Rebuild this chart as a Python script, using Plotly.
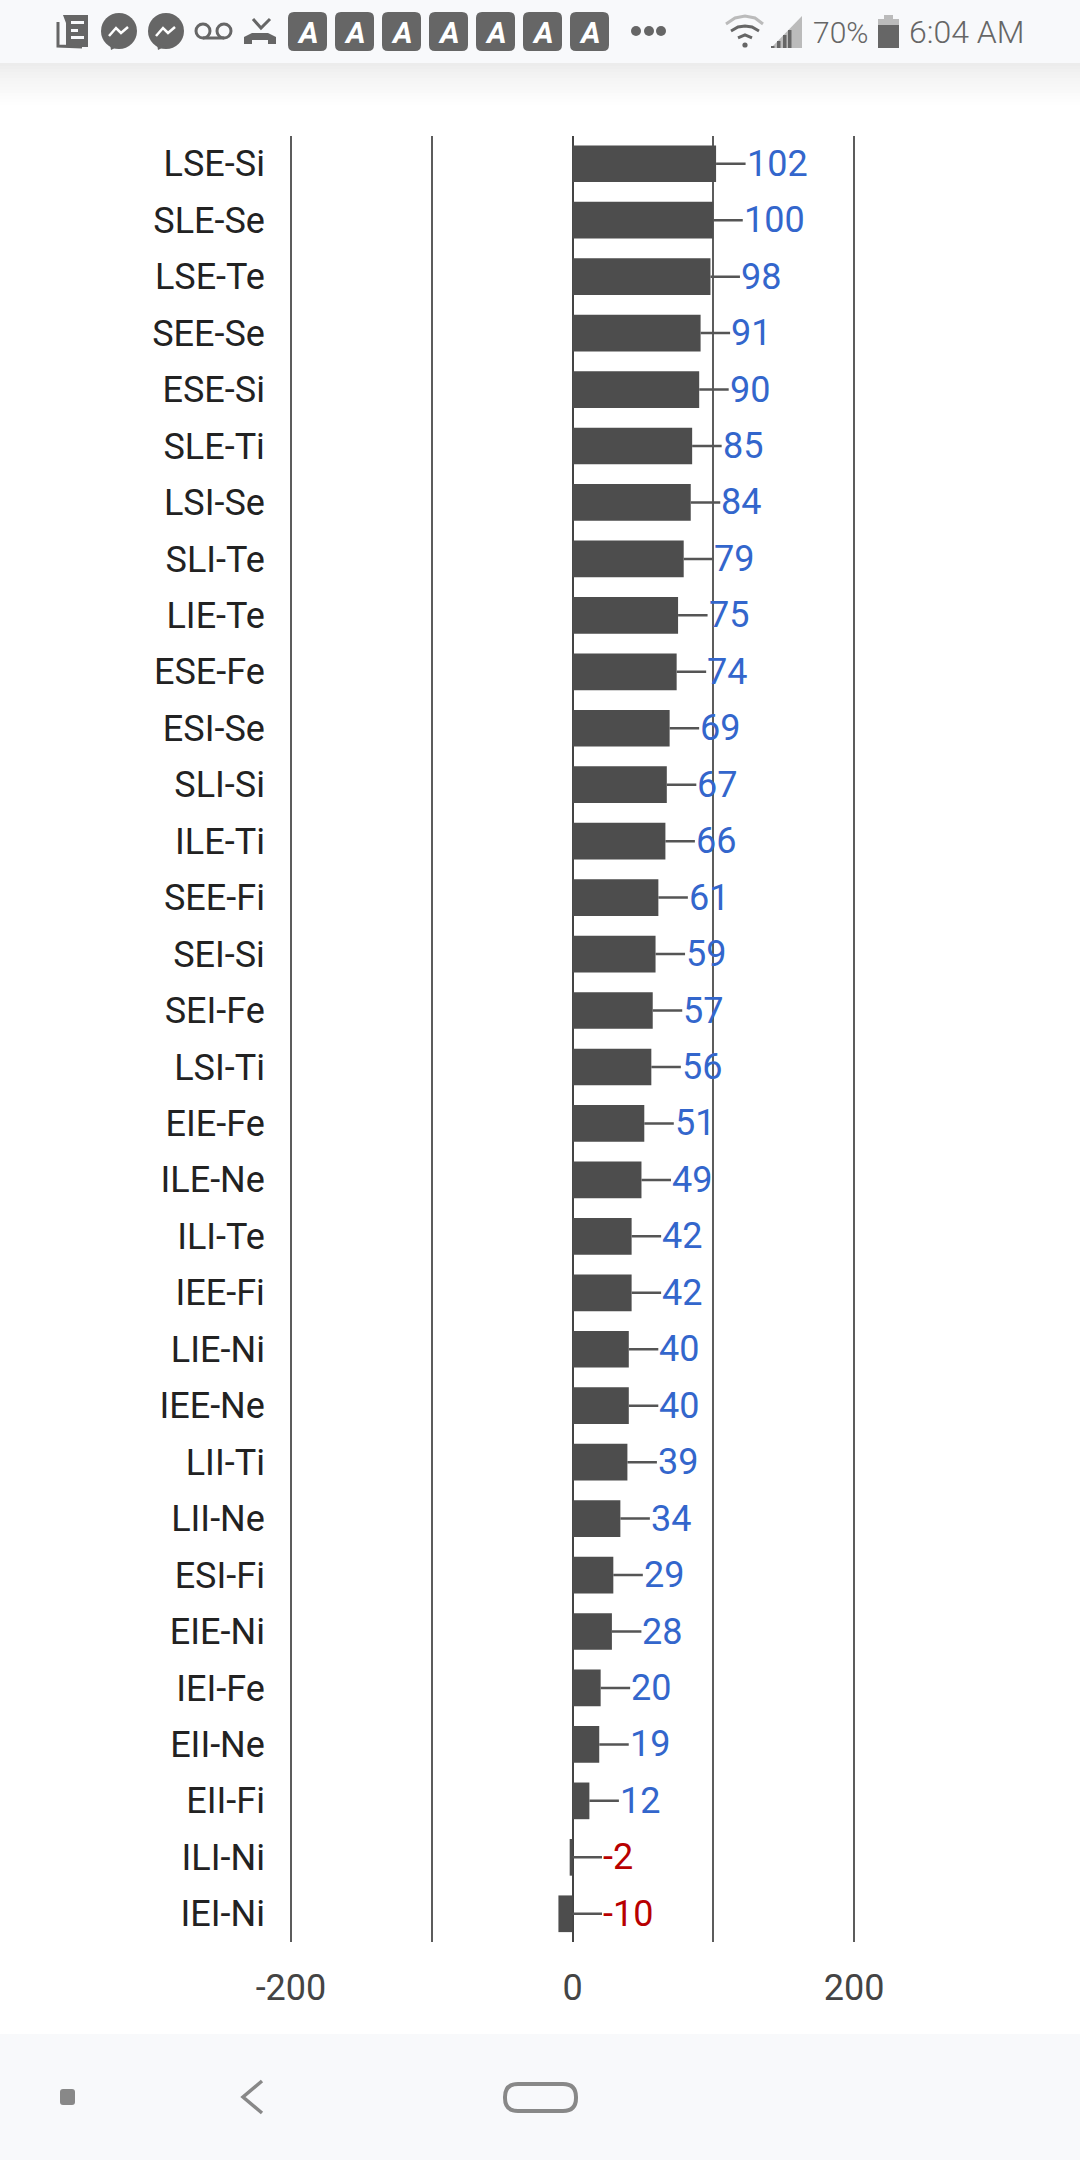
import plotly.graph_objects as go

categories = ["LSE-Si","SLE-Se","LSE-Te","SEE-Se","ESE-Si","SLE-Ti","LSI-Se","SLI-Te","LIE-Te","ESE-Fe",
              "ESI-Se","SLI-Si","ILE-Ti","SEE-Fi","SEI-Si","SEI-Fe","LSI-Ti","EIE-Fe","ILE-Ne","ILI-Te",
              "IEE-Fi","LIE-Ni","IEE-Ne","LII-Ti","LII-Ne","ESI-Fi","EIE-Ni","IEI-Fe","EII-Ne","EII-Fi",
              "ILI-Ni","IEI-Ni"]
values = [102,100,98,91,90,85,84,79,75,74,69,67,66,61,59,57,56,51,49,42,42,40,40,39,34,29,28,20,19,12,-2,-10]
grid_ticks = [-200,-100,0,100,200]
grid_labels = ["-200","","0","","200"]

W, H = 1080, 2160
def px(x): return x / W
def py(y): return 1 - y / H

shapes, annos = [], []
def rect(x0, y0, x1, y1, color, layer="below"):
    shapes.append(dict(type="rect", xref="paper", yref="paper", x0=px(x0), x1=px(x1), y0=py(y0), y1=py(y1),
                       fillcolor=color, line=dict(width=0), layer=layer))
def rrect(x0, y0, x1, y1, r, fill, line=None, lw=0):
    d = (f"M {px(x0+r)},{py(y0)} L {px(x1-r)},{py(y0)} Q {px(x1)},{py(y0)} {px(x1)},{py(y0+r)} "
         f"L {px(x1)},{py(y1-r)} Q {px(x1)},{py(y1)} {px(x1-r)},{py(y1)} "
         f"L {px(x0+r)},{py(y1)} Q {px(x0)},{py(y1)} {px(x0)},{py(y1-r)} "
         f"L {px(x0)},{py(y0+r)} Q {px(x0)},{py(y0)} {px(x0+r)},{py(y0)} Z")
    shapes.append(dict(type="path", xref="paper", yref="paper", path=d, fillcolor=fill,
                       line=dict(width=lw, color=line or "rgba(0,0,0,0)"), layer="above"))
def circle(cx, cy, r, fill, line=None, lw=0):
    shapes.append(dict(type="circle", xref="paper", yref="paper", x0=px(cx-r), x1=px(cx+r), y0=py(cy+r), y1=py(cy-r),
                       fillcolor=fill, line=dict(width=lw, color=line or fill), layer="above"))
def path(pts, fill=None, line=None, lw=0, close=False):
    d = "M " + " L ".join(f"{px(a):.5f},{py(b):.5f}" for a, b in pts) + (" Z" if close else "")
    shapes.append(dict(type="path", xref="paper", yref="paper", path=d, fillcolor=fill or "rgba(0,0,0,0)",
                       line=dict(width=lw, color=line or "rgba(0,0,0,0)"), layer="above"))
def text(x, y, s, size, color, anchor="left", family="Roboto", weight=None):
    annos.append(dict(xref="paper", yref="paper", x=px(x), y=py(y), text=s, showarrow=False, xanchor=anchor,
                      yanchor="middle", font=dict(family=family, size=size, color=color, weight=weight), borderpad=0))

BAR = "#f8f9fb"; IC = "#666666"
# status bar + shadow
rect(0, 0, W, 63, BAR)
shade = 14
for i in range(shade):
    t = (i / shade) ** 0.7
    g = int(236 + (255 - 236) * t)
    rect(0, 63 + i * 3, W, 63 + (i + 1) * 3, f"rgb({g},{g},{g})")
# nav bar
rect(0, 2034, W, H, BAR)

# newspaper icon
path([(63,15),(88,15),(88,47),(66,47),(66,23)], fill=IC, close=True)
path([(58,22),(58,46),(82,47)], line=IC, lw=3)
for y0, x1 in [(21,84),(29,78),(36,84)]:
    rect(71, y0, x1, y0+3, BAR, layer="above")
# messenger icons
for cx in (119, 166):
    circle(cx, 31, 18, IC)
    path([(cx-9,44),(cx-8,50),(cx,46)], fill=IC, close=True)
    path([(cx-10,36),(cx-3,28),(cx+2,33),(cx+9,27)], line="white", lw=2.5)
# voicemail
circle(203, 31, 7, "rgba(0,0,0,0)", IC, 3)
circle(224, 31, 7, "rgba(0,0,0,0)", IC, 3)
path([(203,38),(224,38)], line=IC, lw=3)
# missed call
path([(253,19),(261,28),(270,19)], line=IC, lw=3)
path([(244,44),(244,37),(252,33),(268,33),(276,37),(276,44),(268,44),(268,40),(252,40),(252,44)], fill=IC, close=True)
# A notification boxes
for x0 in (288, 335, 382, 429, 476, 523, 570):
    rrect(x0, 12, x0+39, 51, 6, IC)
    annos.append(dict(xref="paper", yref="paper", x=px(x0+19.5), y=py(32), text="<b><i>A</i></b>", showarrow=False,
                      xanchor="center", yanchor="middle", font=dict(family="Roboto", size=30, color="white")))
# dots
for cx in (636, 649, 661):
    circle(cx, 31, 5, IC)
# wifi
path([(726,24),(735,18),(745,16),(755,18),(763,24)], line="#bbbbbb", lw=3)
path([(731,31),(738,27),(745,26),(752,27),(759,31)], line=IC, lw=3)
path([(738,38),(745,35),(752,38)], line=IC, lw=3)
circle(745, 45, 2.6, IC)
# signal
path([(802,16),(802,48),(771,48)], fill="#bbbbbb", close=True)
for x0, top in [(771,46),(777,41),(783,35),(788,30)]:
    rect(x0, top, x0+3.5, 48, IC, layer="above")
# battery
rect(884, 15, 893, 20, "#bbbbbb", layer="above")
rect(878, 19, 899, 25, "#bbbbbb", layer="above")
rect(878, 25, 899, 48, IC, layer="above")
text(812, 32, "70%", 30, IC, weight=300)
text(908, 32, "6:04 AM", 32, IC, weight=300)
# nav icons
rrect(60, 2089, 75, 2105, 3, "#888888")
path([(262,2081),(243,2097),(262,2113)], line="#888888", lw=3.5)
rrect(505, 2084, 576, 2111, 13, "rgba(0,0,0,0)", "#888888", 4)

# value labels with leader lines
for c, v in zip(categories, values):
    annos.append(dict(x=max(v, 0), y=c, xref="x", yref="y", ax=29.5, ay=0, axref="pixel", ayref="pixel",
                      text=str(v), showarrow=True, arrowhead=0, arrowwidth=2.5, arrowcolor="#555555",
                      xanchor="left", yanchor="middle", standoff=0, borderpad=0,
                      font=dict(family="Roboto", size=36, color="#3366cc" if v >= 0 else "#b80000")))

fig = go.Figure(go.Bar(y=categories, x=values, orientation="h", width=0.65,
                       marker=dict(color="#4d4d4d", line=dict(width=0))))
fig.update_layout(
    width=W, height=H, margin=dict(l=0, r=0, t=0, b=0, autoexpand=False),
    paper_bgcolor="white", plot_bgcolor="white", showlegend=False,
    shapes=shapes, annotations=annos,
    xaxis=dict(domain=[px(572.5-295.6), px(572.5+295.6)], range=[-210, 210], tickvals=grid_ticks, ticktext=grid_labels,
               showgrid=True, gridcolor="#5c5c5c", gridwidth=2, zeroline=True, zerolinecolor="#444444", zerolinewidth=2,
               showline=False, ticks="", ticklabelstandoff=21, tickfont=dict(family="Roboto", size=36, color="#444444")),
    yaxis=dict(domain=[py(1942), py(135.5)], type="category", categoryorder="array", categoryarray=categories,
               autorange="reversed", showgrid=False, showline=False, ticks="", ticklabelstandoff=11,
               tickfont=dict(family="Roboto", size=36, color="#222222")),
)
fig.write_html("out.html", config=dict(displayModeBar=False),
               post_script="document.body.style.margin='0';document.documentElement.style.overflow='hidden';")
